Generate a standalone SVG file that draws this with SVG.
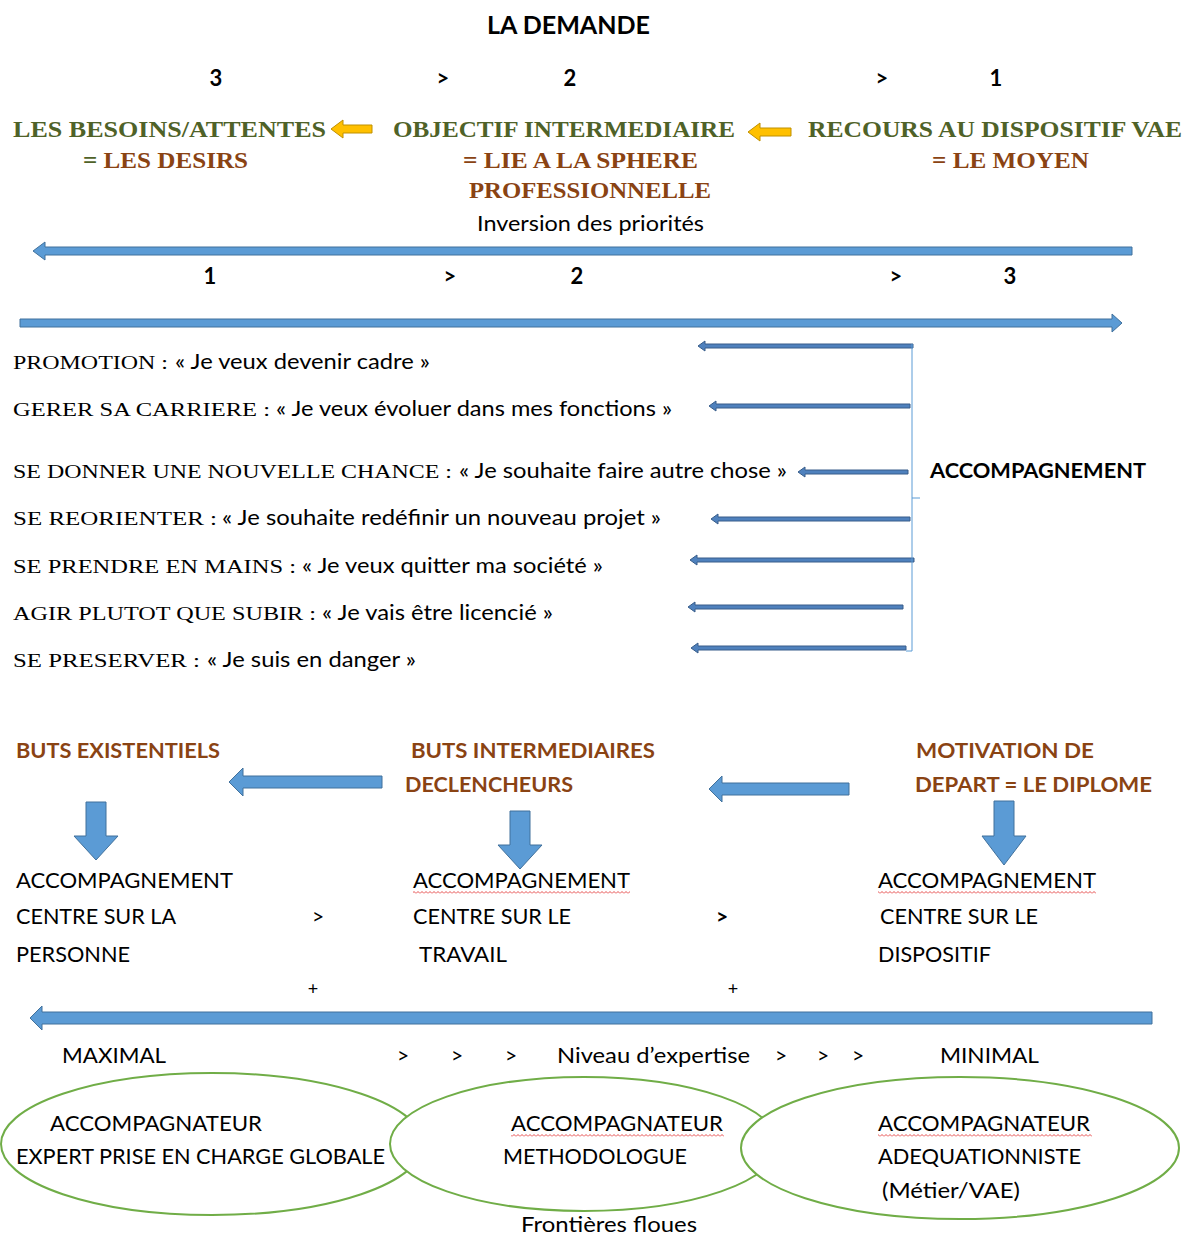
<svg xmlns="http://www.w3.org/2000/svg" width="1186" height="1236" viewBox="0 0 1186 1236">
<style>
text{font-family:Lato,"Liberation Sans",sans-serif;font-size:21px;fill:#000}
.b{font-weight:bold}
.num{font-weight:bold;font-size:22px;text-anchor:middle}
.sf{font-family:"Liberation Serif",serif;font-weight:bold;font-size:23px}
.lab{font-family:"Liberation Serif",serif;font-size:19px}
.g{fill:#4F6228}
.br{fill:#8A4313}
.mid{text-anchor:middle}
.blue{fill:#5B9BD5;stroke:#41719C;stroke-width:1}
.thin{fill:#4F81BD;stroke:#385D8A;stroke-width:1}
.yel{fill:#FFC000;stroke:#BF9000;stroke-width:1}
.ell{fill:#fff;stroke:#70AD47;stroke-width:2}
.wavy{fill:url(#wv)}
</style>
<defs>
<pattern id="wv" width="4" height="3" patternUnits="userSpaceOnUse">
<path d="M0,2.5 L2,0.5 L4,2.5" fill="none" stroke="#E02020" stroke-width="0.8"/>
</pattern>
</defs>
<rect width="1186" height="1236" fill="#fff"/>

<g id="header">
<text x="487" y="34" class="b" textLength="163" lengthAdjust="spacingAndGlyphs" style="font-size:24px">LA DEMANDE</text>
<text x="216" y="86" class="num">3</text>
<text x="443" y="86" class="num">&gt;</text>
<text x="570" y="86" class="num">2</text>
<text x="882" y="86" class="num">&gt;</text>
<text x="996" y="86" class="num">1</text>
</g>

<g id="node-besoins">
<text x="13" y="137" class="sf g" textLength="313" lengthAdjust="spacingAndGlyphs">LES BESOINS/ATTENTES</text>
<text x="83" y="168" class="sf" textLength="165" lengthAdjust="spacingAndGlyphs"><tspan class="g">= </tspan><tspan class="br">LES DESIRS</tspan></text>
</g>
<g id="node-objectif">
<text x="393" y="137" class="sf g" textLength="342" lengthAdjust="spacingAndGlyphs">OBJECTIF INTERMEDIAIRE</text>
<text x="463" y="168" class="sf br" textLength="235" lengthAdjust="spacingAndGlyphs">= LIE A LA SPHERE</text>
<text x="469" y="198" class="sf br" textLength="242" lengthAdjust="spacingAndGlyphs">PROFESSIONNELLE</text>
</g>
<g id="node-recours">
<text x="808" y="137" class="sf g" textLength="374" lengthAdjust="spacingAndGlyphs">RECOURS AU DISPOSITIF VAE</text>
<text x="932" y="168" class="sf br" textLength="157" lengthAdjust="spacingAndGlyphs">= LE MOYEN</text>
</g>

<g id="inversion">
<text x="477" y="231" textLength="227" lengthAdjust="spacingAndGlyphs">Inversion des priorités</text>
<text x="210" y="284" class="num">1</text>
<text x="450" y="284" class="num">&gt;</text>
<text x="577" y="284" class="num">2</text>
<text x="896" y="284" class="num">&gt;</text>
<text x="1010" y="284" class="num">3</text>
</g>

<g id="list">
<text x="13" y="369" class="lab" textLength="155" lengthAdjust="spacingAndGlyphs">PROMOTION :</text>
<text x="175" y="369" textLength="255" lengthAdjust="spacingAndGlyphs">« Je veux devenir cadre »</text>
<text x="13" y="416" class="lab" textLength="257" lengthAdjust="spacingAndGlyphs">GERER SA CARRIERE :</text>
<text x="276" y="416" textLength="396" lengthAdjust="spacingAndGlyphs">« Je veux évoluer dans mes fonctions »</text>
<text x="13" y="478" class="lab" textLength="439" lengthAdjust="spacingAndGlyphs">SE DONNER UNE NOUVELLE CHANCE :</text>
<text x="459" y="478" textLength="328" lengthAdjust="spacingAndGlyphs">« Je souhaite faire autre chose »</text>
<text x="13" y="525" class="lab" textLength="204" lengthAdjust="spacingAndGlyphs">SE REORIENTER :</text>
<text x="222" y="525" textLength="439" lengthAdjust="spacingAndGlyphs">« Je souhaite redéfinir un nouveau projet »</text>
<text x="13" y="573" class="lab" textLength="283" lengthAdjust="spacingAndGlyphs">SE PRENDRE EN MAINS :</text>
<text x="302" y="573" textLength="301" lengthAdjust="spacingAndGlyphs">« Je veux quitter ma société »</text>
<text x="13" y="620" class="lab" textLength="303" lengthAdjust="spacingAndGlyphs">AGIR PLUTOT QUE SUBIR :</text>
<text x="322" y="620" textLength="231" lengthAdjust="spacingAndGlyphs">« Je vais être licencié »</text>
<text x="13" y="667" class="lab" textLength="187" lengthAdjust="spacingAndGlyphs">SE PRESERVER :</text>
<text x="207" y="667" textLength="209" lengthAdjust="spacingAndGlyphs">« Je suis en danger »</text>
</g>

<g id="node-accompagnement">
<text x="930" y="478" class="b" textLength="216" lengthAdjust="spacingAndGlyphs">ACCOMPAGNEMENT</text>
</g>

<g id="node-buts">
<text x="16" y="758" class="b br" textLength="204" lengthAdjust="spacingAndGlyphs">BUTS EXISTENTIELS</text>
<text x="411" y="758" class="b br" textLength="244" lengthAdjust="spacingAndGlyphs">BUTS INTERMEDIAIRES</text>
<text x="405" y="792" class="b br" textLength="168" lengthAdjust="spacingAndGlyphs">DECLENCHEURS</text>
<text x="916" y="758" class="b br" textLength="178" lengthAdjust="spacingAndGlyphs">MOTIVATION DE</text>
<text x="915" y="792" class="b br" textLength="237" lengthAdjust="spacingAndGlyphs">DEPART = LE DIPLOME</text>
</g>

<g id="node-personne">
<text x="16" y="888" textLength="217" lengthAdjust="spacingAndGlyphs">ACCOMPAGNEMENT</text>
<text x="16" y="924" textLength="160" lengthAdjust="spacingAndGlyphs">CENTRE SUR LA</text>
<text x="16" y="962" textLength="114" lengthAdjust="spacingAndGlyphs">PERSONNE</text>
</g>
<g id="node-travail">
<text x="413" y="888" textLength="217" lengthAdjust="spacingAndGlyphs">ACCOMPAGNEMENT</text>
<rect x="413" y="891" width="217" height="3" class="wavy"/>
<text x="413" y="924" textLength="158" lengthAdjust="spacingAndGlyphs">CENTRE SUR LE</text>
<text x="419" y="962" textLength="88" lengthAdjust="spacingAndGlyphs">TRAVAIL</text>
</g>
<g id="node-dispositif">
<text x="878" y="888" textLength="218" lengthAdjust="spacingAndGlyphs">ACCOMPAGNEMENT</text>
<rect x="878" y="891" width="218" height="3" class="wavy"/>
<text x="880" y="924" textLength="158" lengthAdjust="spacingAndGlyphs">CENTRE SUR LE</text>
<text x="878" y="962" textLength="113" lengthAdjust="spacingAndGlyphs">DISPOSITIF</text>
</g>
<g id="signs">
<text x="318" y="924" class="mid">&gt;</text>
<text x="722" y="924" class="mid b">&gt;</text>
<text x="313" y="995" class="mid" style="font-size:18px">+</text>
<text x="733" y="995" class="mid" style="font-size:18px">+</text>
</g>

<g id="scale">
<text x="62" y="1063" textLength="104" lengthAdjust="spacingAndGlyphs">MAXIMAL</text>
<text x="403" y="1063" class="mid">&gt;</text>
<text x="457" y="1063" class="mid">&gt;</text>
<text x="511" y="1063" class="mid">&gt;</text>
<text x="557" y="1063" textLength="193" lengthAdjust="spacingAndGlyphs">Niveau d’expertise</text>
<text x="781" y="1063" class="mid">&gt;</text>
<text x="823" y="1063" class="mid">&gt;</text>
<text x="858" y="1063" class="mid">&gt;</text>
<text x="940" y="1063" textLength="99" lengthAdjust="spacingAndGlyphs">MINIMAL</text>
</g>

<g id="node-expert">
<ellipse cx="212" cy="1144" rx="211" ry="71" class="ell"/>
<text x="50" y="1131" textLength="212" lengthAdjust="spacingAndGlyphs">ACCOMPAGNATEUR</text>
<text x="16" y="1164" textLength="369" lengthAdjust="spacingAndGlyphs">EXPERT PRISE EN CHARGE GLOBALE</text>
</g>
<g id="node-methodologue">
<ellipse cx="584" cy="1144" rx="194" ry="67" class="ell"/>
<text x="511" y="1131" textLength="212" lengthAdjust="spacingAndGlyphs">ACCOMPAGNATEUR</text>
<rect x="511" y="1134" width="213" height="3" class="wavy"/>
<text x="503" y="1164" textLength="184" lengthAdjust="spacingAndGlyphs">METHODOLOGUE</text>
</g>
<g id="node-adequationniste">
<ellipse cx="960" cy="1148" rx="219" ry="71" class="ell"/>
<text x="878" y="1131" textLength="212" lengthAdjust="spacingAndGlyphs">ACCOMPAGNATEUR</text>
<rect x="878" y="1134" width="214" height="3" class="wavy"/>
<text x="878" y="1164" textLength="203" lengthAdjust="spacingAndGlyphs">ADEQUATIONNISTE</text>
<text x="882" y="1198" textLength="138" lengthAdjust="spacingAndGlyphs">(Métier/VAE)</text>
</g>
<g id="frontieres">
<text x="521" y="1232" textLength="176" lengthAdjust="spacingAndGlyphs">Frontières floues</text>
</g>

<g id="connectors">
<polygon class="yel" points="331,129 343,120 343,125 372,125 372,133 343,133 343,138"/>
<polygon class="yel" points="748,132 760,123 760,128 791,128 791,136 760,136 760,141"/>
<polygon class="blue" points="33,251 45,242 45,247 1132,247 1132,255 45,255 45,260"/>
<polygon class="blue" points="1122,323 1112,314 1112,319 20,319 20,327 1112,327 1112,332"/>
<polygon class="thin" points="698,346 705,341 705,344 913,344 913,348 705,348 705,351"/>
<polygon class="thin" points="709,406 716,401 716,404 910,404 910,408 716,408 716,411"/>
<polygon class="thin" points="798,472 805,467 805,470 908,470 908,474 805,474 805,477"/>
<polygon class="thin" points="711,519 718,514 718,517 910,517 910,521 718,521 718,524"/>
<polygon class="thin" points="690,560 697,555 697,558 914,558 914,562 697,562 697,565"/>
<polygon class="thin" points="688,607 695,602 695,605 903,605 903,609 695,609 695,612"/>
<polygon class="thin" points="691,648 698,643 698,646 906,646 906,650 698,650 698,653"/>
<path d="M912,344 V651 H906 M912,498 H920" fill="none" stroke="#5B9BD5" stroke-width="1"/>
<polygon class="blue" points="229,782 243,768 243,776 382,776 382,788 243,788 243,796"/>
<polygon class="blue" points="709,789 722,776 722,783 849,783 849,795 722,795 722,802"/>
<polygon class="blue" points="86,802 106,802 106,836 118,836 96,860 74,836 86,836"/>
<polygon class="blue" points="510,811 530,811 530,845 542,845 520,869 498,845 510,845"/>
<polygon class="blue" points="994,801 1014,801 1014,836 1026,836 1004,865 982,836 994,836"/>
<polygon class="blue" points="30,1018 42,1006 42,1012 1152,1012 1152,1024 42,1024 42,1030"/>
</g>
</svg>
